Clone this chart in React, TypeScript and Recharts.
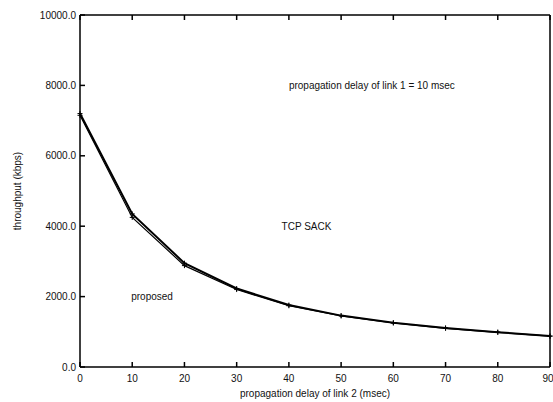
import { LineChart, Line, XAxis, YAxis, ReferenceDot, Label } from 'recharts';

const delays = [0, 10, 20, 30, 40, 50, 60, 70, 80, 90];
const sackThroughput = [7200, 4350, 2950, 2230, 1760, 1460, 1260, 1110, 990, 880];
const proposedThroughput = [7150, 4250, 2880, 2200, 1740, 1450, 1250, 1100, 985, 875];
const xTicks = [0, 10, 20, 30, 40, 50, 60, 70, 80, 90];
const yTicks = [0, 2000, 4000, 6000, 8000, 10000];

const data = delays.map((d, i) => ({
  delay: d,
  sack: sackThroughput[i],
  proposed: proposedThroughput[i],
}));

const font = '"Liberation Sans", Arial, sans-serif';
const tickStyle = { fontSize: 10, fill: '#111', fontFamily: font };

const Cross = (props: any) => {
  const { cx, cy, index } = props;
  if (cx == null || cy == null) return <g key={index} />;
  return (
    <path
      key={index}
      d={`M${cx - 2.5},${cy}H${cx + 2.5}M${cx},${cy - 2.5}V${cy + 2.5}`}
      stroke="#000"
      strokeWidth={1}
    />
  );
};

export default function App() {
  return (
    <div style={{ position: 'absolute', left: 0, top: 0, background: '#fff' }}>
      <LineChart
        width={553}
        height={402}
        data={data}
        margin={{ top: 14, right: 2, bottom: 0, left: 0 }}
      >
        <XAxis
          dataKey="delay"
          type="number"
          domain={[0, 90]}
          ticks={xTicks}
          height={35}
          tickSize={-5}
          tickMargin={13}
          stroke="#000"
          strokeWidth={1.5}
          tick={tickStyle}
        >
          <Label
            value="propagation delay of link 2 (msec)"
            position="center"
            dy={9}
            style={{ fontSize: 10, fill: '#111', fontFamily: font }}
          />
        </XAxis>
        <XAxis
          xAxisId="top"
          orientation="top"
          dataKey="delay"
          type="number"
          domain={[0, 90]}
          ticks={xTicks}
          height={1}
          tickSize={-5}
          tickFormatter={() => ''}
          stroke="#000"
          strokeWidth={1.5}
        />
        <YAxis
          type="number"
          domain={[0, 10000]}
          ticks={yTicks}
          width={80}
          tickSize={-5}
          tickMargin={9}
          stroke="#000"
          strokeWidth={1.5}
          tick={tickStyle}
          tickFormatter={(v: number) => v.toFixed(1)}
        >
          <Label
            value="throughput (kbps)"
            angle={-90}
            position="center"
            dx={-23}
            style={{ fontSize: 10, fill: '#111', fontFamily: font, textAnchor: 'middle' }}
          />
        </YAxis>
        <YAxis
          yAxisId="right"
          orientation="right"
          type="number"
          domain={[0, 10000]}
          ticks={yTicks}
          width={1}
          tickSize={-5}
          tickFormatter={() => ''}
          stroke="#000"
          strokeWidth={1.5}
        />
        <Line
          dataKey="sack"
          stroke="#000"
          strokeWidth={2}
          dot={Cross}
          isAnimationActive={false}
        />
        <Line
          dataKey="proposed"
          stroke="#000"
          strokeWidth={1.2}
          dot={Cross}
          isAnimationActive={false}
        />
        <ReferenceDot
          x={40}
          y={8000}
          r={0}
          stroke="none"
          label={{ value: 'propagation delay of link 1 = 10 msec', position: 'right', offset: 0, style: tickStyle }}
        />
        <ReferenceDot
          x={38.6}
          y={4000}
          r={0}
          stroke="none"
          label={{ value: 'TCP SACK', position: 'right', offset: 0, style: tickStyle }}
        />
        <ReferenceDot
          x={9.8}
          y={2000}
          r={0}
          stroke="none"
          label={{ value: 'proposed', position: 'right', offset: 0, style: tickStyle }}
        />
      </LineChart>
    </div>
  );
}
